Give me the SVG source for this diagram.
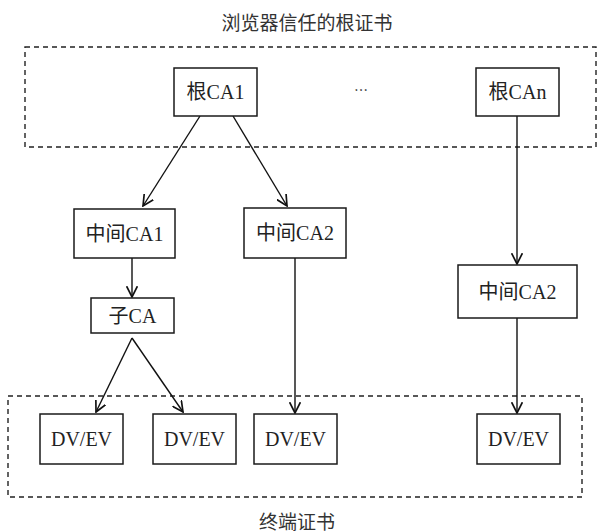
<svg xmlns="http://www.w3.org/2000/svg" width="598" height="531" viewBox="0 0 598 531">
<style>
.box{fill:#fff;stroke:#1a1a1a;stroke-width:1.5}
.grp{fill:none;stroke:#222;stroke-width:1.4;stroke-dasharray:5 4}
.lbl{font-family:"Liberation Serif","Noto Sans CJK SC",serif;font-size:20px;fill:#222;text-anchor:middle;dominant-baseline:central}
.cap{font-family:"Liberation Serif","Noto Sans CJK SC",serif;font-size:19px;fill:#333;text-anchor:middle;dominant-baseline:central}
.edge{fill:none;stroke:#111;stroke-width:1.4;marker-end:url(#arr)}
</style>
<defs>
<marker id="arr" markerUnits="userSpaceOnUse" markerWidth="12" markerHeight="12" viewBox="0 0 10 10" refX="9" refY="5" orient="auto">
<path d="M0,0.5 L9,5 L0,9.5" fill="none" stroke="#111" stroke-width="1.4"/>
</marker>
</defs>
<rect width="598" height="531" fill="#fff"/>
<g id="groups">
<rect class="grp" x="25" y="47" width="571" height="100"/>
<text class="cap" x="307" y="23">浏览器信任的根证书</text>
<rect class="grp" x="8" y="396" width="574" height="101"/>
<text class="cap" x="297" y="522">终端证书</text>
</g>
<g id="connectors">
<line class="edge" x1="200" y1="116" x2="143" y2="206"/>
<line class="edge" x1="233" y1="116" x2="287" y2="206"/>
<line class="edge" x1="517" y1="116" x2="517" y2="264"/>
<line class="edge" x1="132" y1="258" x2="132" y2="297"/>
<line class="edge" x1="295" y1="258" x2="295" y2="413"/>
<line class="edge" x1="517" y1="318" x2="517" y2="413"/>
<line class="edge" x1="132" y1="338" x2="96" y2="412"/>
<line class="edge" x1="132" y1="338" x2="183" y2="412"/>
</g>
<g id="root1"><rect class="box" x="174" y="68" width="83" height="48"/><text class="lbl" x="215.5" y="92">根CA1</text></g>
<g id="ellipsis"><text class="lbl" x="361" y="89" style="font-family:'Noto Sans CJK SC',sans-serif;font-size:14px">…</text></g>
<g id="rootn"><rect class="box" x="476" y="68" width="83" height="48"/><text class="lbl" x="517.5" y="92">根CAn</text></g>
<g id="mid1"><rect class="box" x="74" y="209" width="101" height="49"/><text class="lbl" x="124.5" y="233.5">中间CA1</text></g>
<g id="mid2"><rect class="box" x="244" y="208" width="102" height="50"/><text class="lbl" x="295" y="233">中间CA2</text></g>
<g id="sub"><rect class="box" x="91" y="298" width="83" height="35"/><text class="lbl" x="132.5" y="315.5">子CA</text></g>
<g id="midR"><rect class="box" x="458" y="265" width="119" height="53"/><text class="lbl" x="517.5" y="291.5">中间CA2</text></g>
<g id="dv1"><rect class="box" x="40" y="414" width="83" height="50"/><text class="lbl" x="81.5" y="439">DV/EV</text></g>
<g id="dv2"><rect class="box" x="153" y="414" width="83" height="50"/><text class="lbl" x="194.5" y="439">DV/EV</text></g>
<g id="dv3"><rect class="box" x="254" y="414" width="83" height="50"/><text class="lbl" x="295.5" y="439">DV/EV</text></g>
<g id="dv4"><rect class="box" x="477" y="414" width="83" height="50"/><text class="lbl" x="518.5" y="439">DV/EV</text></g>
</svg>
